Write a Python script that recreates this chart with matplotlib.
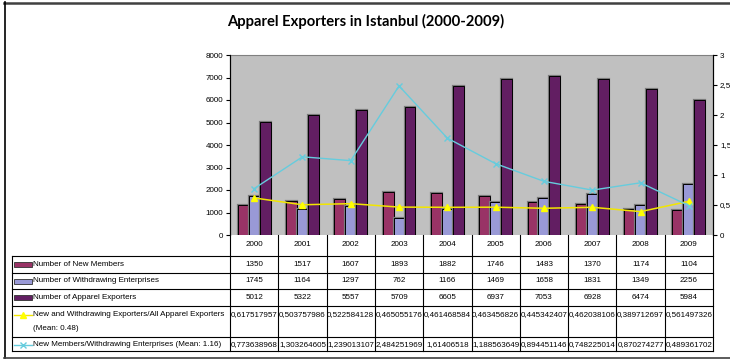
import matplotlib.pyplot as plt
from matplotlib.transforms import blended_transform_factory
from matplotlib.patches import Rectangle
from matplotlib.lines import Line2D
from matplotlib.ticker import FuncFormatter
import matplotlib.patheffects as pe

years = ['2000', '2001', '2002', '2003', '2004', '2005', '2006', '2007', '2008', '2009']
new_members = [1350, 1517, 1607, 1893, 1882, 1746, 1483, 1370, 1174, 1104]
withdrawing = [1745, 1164, 1297, 762, 1166, 1469, 1658, 1831, 1349, 2256]
exporters = [5012, 5322, 5557, 5709, 6605, 6937, 7053, 6928, 6474, 5984]
ratio_all = [0.617517957, 0.503757986, 0.522584128, 0.465055176, 0.461468584,
             0.463456826, 0.445342407, 0.462038106, 0.389712697, 0.561497326]
ratio_new_wd = [0.773638968, 1.303264605, 1.239013107, 2.484251969, 1.61406518,
                1.188563649, 0.894451146, 0.748225014, 0.870274277, 0.489361702]

c_new = '#993366'
c_wd = '#9999D6'
c_exp = '#621E62'
c_yel = '#F2E600'
c_cyan = '#66CCDD'

plt.rcParams['font.family'] = ['Liberation Sans', 'DejaVu Sans']
fs = 5.8

W, H = 730, 359
fig = plt.figure(figsize=(W / 100, H / 100), dpi=100)


def fx(x):
    return x / W


def fy(y):
    return 1 - y / H


ax = fig.add_axes([fx(230), fy(235), fx(713) - fx(230), fy(55) - fy(235)])
ax.set_facecolor('#C0C0C0')

# bars get a thin grey halo like the old Excel rendering
halo = [pe.Stroke(linewidth=1.6, foreground='#7A7A7A'), pe.Normal()]
x = list(range(len(years)))
bw = 0.227
for off, vals, col in ((-bw, new_members, c_new), (0, withdrawing, c_wd), (bw, exporters, c_exp)):
    bars = ax.bar([i + off for i in x], vals, bw, color=col, edgecolor='black', lw=0.7)
    for b in bars:
        b.set_path_effects(halo)
ax.set_xlim(-0.5, len(years) - 0.5)
ax.set_ylim(0, 8000)
ax.set_yticks(range(0, 8001, 1000))
ax.set_xticks([])
ax.tick_params(axis='y', labelsize=fs, length=3, width=0.8, pad=2)
ax.spines['top'].set_color('#808080')
ax.spines['bottom'].set_visible(False)

ax2 = ax.twinx()
ax2.set_ylim(0, 3)
ax2.set_yticks([0, 0.5, 1, 1.5, 2, 2.5, 3])
ax2.yaxis.set_major_formatter(FuncFormatter(lambda v, p: ('%g' % v).replace('.', ',')))
ax2.tick_params(axis='y', labelsize=fs, length=3, width=0.8, pad=2)
ax2.plot(x, ratio_all, color=c_yel, lw=1.1, marker='^', ms=4.5, mfc='#FFFF00', mec='#FFFF00')
ax2.plot(x, ratio_new_wd, color=c_cyan, lw=1.0, marker='x', ms=4.5, mew=1.0)
for s in ('top', 'bottom'):
    ax2.spines[s].set_visible(False)

fig.text(fx(366), fy(21), 'Apparel Exporters in Istanbul (2000-2009)', ha='center', va='center',
         fontsize=10.6, fontweight='bold', family=['Lato', 'DejaVu Sans'])

# outer frame
fig.add_artist(Line2D([fx(4), 1], [fy(2.5), fy(2.5)], color='#404040', lw=1.8))
fig.add_artist(Line2D([fx(4.5), fx(4.5)], [fy(2), fy(357.5)], color='black', lw=1.2))
fig.add_artist(Line2D([fx(4), 1], [fy(357.5), fy(357.5)], color='#404040', lw=1.2))

# data table below the plot
trans = blended_transform_factory(ax.transData, fig.transFigure)
row_lines = [256, 273, 289, 306, 337, 351]
for yl in row_lines:
    fig.add_artist(Line2D([fx(12), fx(713)], [fy(yl), fy(yl)], color='black', lw=0.8))
fig.add_artist(Line2D([fx(12), fx(12)], [fy(256), fy(351)], color='black', lw=0.8))
for i in range(len(years) + 1):
    fig.add_artist(Line2D([i - 0.5, i - 0.5], [fy(235), fy(351)], color='black', lw=0.8,
                          transform=trans))


def fmt(v):
    return ('%.9f' % v).rstrip('0').replace('.', ',')


rows = [
    ('bar', c_new, ['Number of New Members'], [str(v) for v in new_members], 264.5),
    ('bar', c_wd, ['Number of Withdrawing Enterprises'], [str(v) for v in withdrawing], 281),
    ('bar', c_exp, ['Number of Apparel Exporters'], [str(v) for v in exporters], 297.5),
    ('line', 'yel', ['New and Withdrawing Exporters/All Apparel Exporters', '(Mean: 0.48)'],
     [fmt(v) for v in ratio_all], 315),
    ('line', 'cyan', ['New Members/Withdrawing Enterprises (Mean: 1.16)'],
     [fmt(v) for v in ratio_new_wd], 345),
]

for i, yr in enumerate(years):
    fig.text(i, fy(245), yr, transform=trans, ha='center', va='center', fontsize=fs)

for kind, col, label, vals, yc in rows:
    if kind == 'bar':
        fig.add_artist(Rectangle((fx(14), fy(yc + 2.5)), fx(18), 5 / H, facecolor=col,
                                 edgecolor='#303030', lw=0.6))
    elif col == 'yel':
        fig.add_artist(Line2D([fx(14), fx(32)], [fy(yc), fy(yc)], color=c_yel, lw=1.0))
        fig.add_artist(Line2D([fx(23)], [fy(yc)], color=c_yel, marker='^', ms=4,
                              mfc='#FFFF00', mec='#FFFF00'))
    else:
        fig.add_artist(Line2D([fx(14), fx(32)], [fy(yc), fy(yc)], color=c_cyan, lw=1.0))
        fig.add_artist(Line2D([fx(23)], [fy(yc)], color=c_cyan, marker='x', ms=4, mew=1.0))
    for j, line in enumerate(label):
        fig.text(fx(33), fy(yc + 13 * j), line, ha='left', va='center', fontsize=fs)
    for i, v in enumerate(vals):
        fig.text(i, fy(yc), v, transform=trans, ha='center', va='center', fontsize=fs)

fig.savefig('out.png', dpi=100)
